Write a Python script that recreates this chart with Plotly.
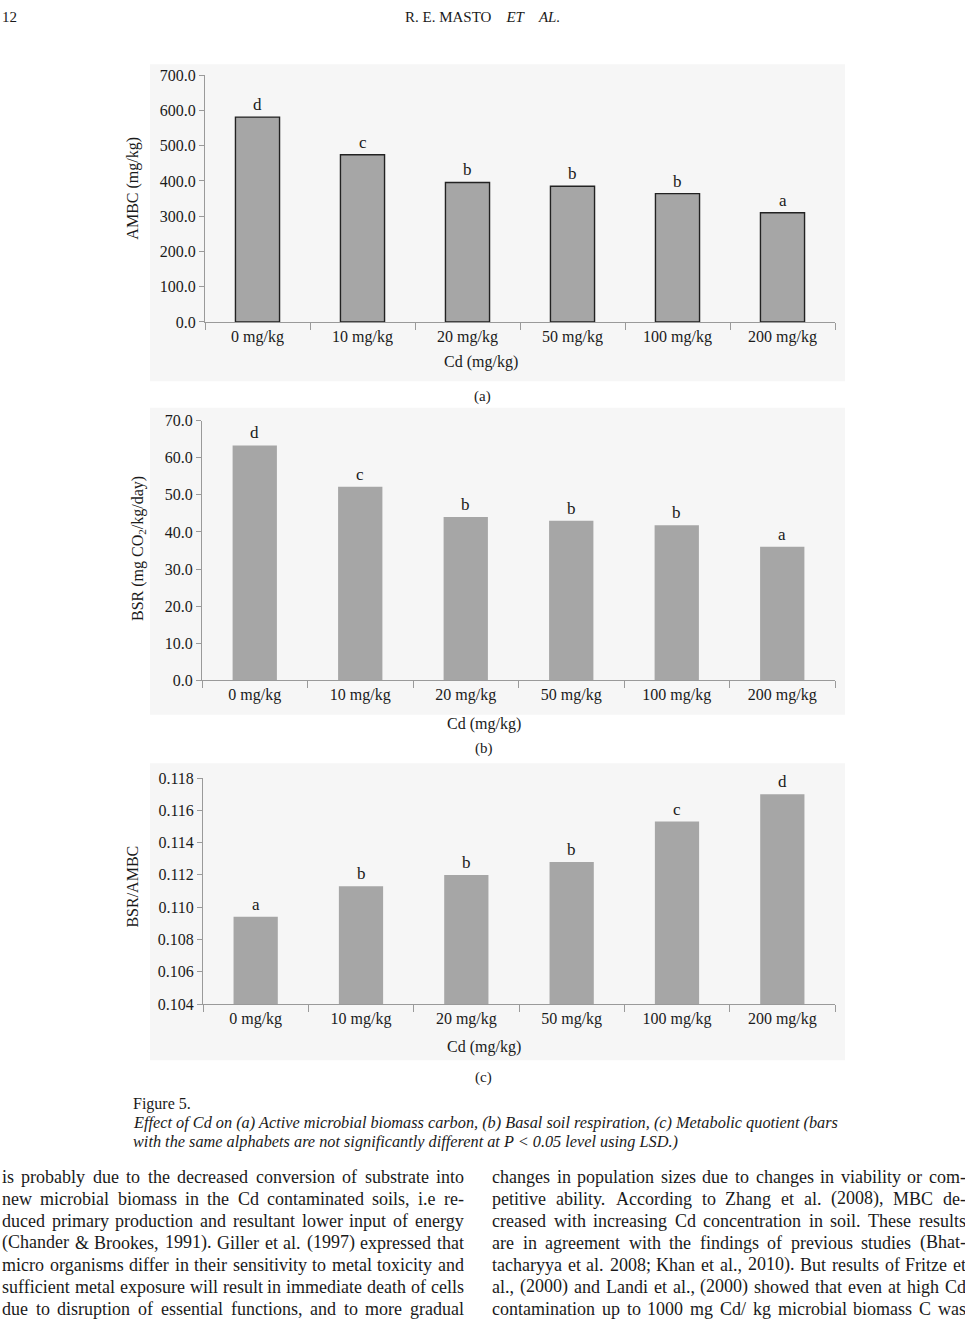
import plotly.graph_objects as go

W, H = 965, 1326
FONT = "Liberation Serif"
TXT = "#1a1a1a"
AXC = "#9a9a9a"
BAR = "#a6a6a6"

# ---------------- data ----------------
categories = ["0 mg/kg", "10 mg/kg", "20 mg/kg", "50 mg/kg", "100 mg/kg", "200 mg/kg"]
ambc = [581.0, 474.0, 395.5, 385.0, 364.0, 309.5]
ambc_letters = ["d", "c", "b", "b", "b", "a"]
bsr = [63.3, 52.2, 44.0, 43.0, 41.8, 36.0]
bsr_letters = ["d", "c", "b", "b", "b", "a"]
qco2 = [0.1094, 0.1113, 0.1120, 0.1128, 0.1153, 0.1170]
qco2_letters = ["a", "b", "b", "b", "c", "d"]

left_col = [
    "is probably due to the decreased conversion of substrate into",
    "new microbial biomass in the Cd contaminated soils, i.e re-",
    "duced primary production and resultant lower input of energy",
    "(Chander & Brookes, 1991). Giller et al. (1997) expressed that",
    "micro organisms differ in their sensitivity to metal toxicity and",
    "sufficient metal exposure will result in immediate death of cells",
    "due to disruption of essential functions, and to more gradual",
]
right_col = [
    "changes in population sizes due to changes in viability or com-",
    "petitive ability. According to Zhang et al. (2008), MBC de-",
    "creased with increasing Cd concentration in soil. These results",
    "are in agreement with the findings of previous studies (Bhat-",
    "tacharyya et al. 2008; Khan et al., 2010). But results of Fritze et",
    "al., (2000) and Landi et al., (2000) showed that even at high Cd",
    "contamination up to 1000 mg Cd/ kg microbial biomass C was",
]
caption_title = "Figure 5."
caption_lines = [
    "Effect of Cd on (a) Active microbial biomass carbon, (b) Basal soil respiration, (c) Metabolic quotient (bars",
    "with the same alphabets are not significantly different at P < 0.05 level using LSD.)",
]


def px(x):
    return x / W


def py(y):
    return 1 - y / H


# Times metrics (per 1000 em) for justification
TW = {' ': 250, 'a': 444, 'b': 500, 'c': 444, 'd': 500, 'e': 444, 'f': 333, 'g': 500, 'h': 500,
      'i': 278, 'j': 278, 'k': 500, 'l': 278, 'm': 778, 'n': 500, 'o': 500, 'p': 500, 'q': 500,
      'r': 333, 's': 389, 't': 278, 'u': 500, 'v': 500, 'w': 722, 'x': 500, 'y': 500, 'z': 444,
      'A': 722, 'B': 667, 'C': 667, 'D': 722, 'E': 611, 'F': 556, 'G': 722, 'H': 722, 'I': 333,
      'J': 389, 'K': 722, 'L': 611, 'M': 889, 'N': 722, 'O': 722, 'P': 556, 'Q': 722, 'R': 667,
      'S': 556, 'T': 611, 'U': 722, 'V': 722, 'W': 944, 'X': 722, 'Y': 722, 'Z': 611,
      '.': 250, ',': 250, '(': 333, ')': 333, '-': 333, '&': 778, ';': 278, ':': 278, '/': 278}


def tw(s):
    return sum(TW.get(c, 500) for c in s) / 1000.0


fig = go.Figure()

panels = [
    dict(xa="x", ya="y", vals=ambc, letters=ambc_letters, x0=205, x1=835, ytop=68, ybot=318,
         rng=[0, 700], dtick=100, fmt=".1f", outline=True),
    dict(xa="x2", ya="y2", vals=bsr, letters=bsr_letters, x0=202, x1=835, ytop=418, ybot=681,
         rng=[0, 70], dtick=10, fmt=".1f", outline=False),
    dict(xa="x3", ya="y3", vals=qco2, letters=qco2_letters, x0=203, x1=835, ytop=780, ybot=1009,
         rng=[0.104, 0.118], dtick=0.002, fmt=".3f", outline=False),
]

annotations = []
shapes = []

# light scan background of the figure images
for (a, b, c, d) in [(150, 57, 845, 378), (150, 405, 845, 716), (150, 765, 845, 1066)]:
    shapes.append(dict(type="rect", xref="paper", yref="paper", x0=px(a), x1=px(c), y0=py(d), y1=py(b),
                       fillcolor="#f6f6f6", line=dict(width=0), layer="below"))

for i, p in enumerate(panels):
    fig.add_trace(go.Bar(
        x=categories, y=p["vals"], xaxis=p["xa"], yaxis=p["ya"], width=0.42,
        marker=dict(color=BAR, line=dict(color="#222222" if p["outline"] else BAR,
                                         width=1.4 if p["outline"] else 0)),
        showlegend=False, hoverinfo="skip"))
    for cat, v, l in zip(categories, p["vals"], p["letters"]):
        annotations.append(dict(x=cat, y=v, xref=p["xa"], yref=p["ya"], text=l, showarrow=False,
                                yanchor="bottom", yshift=1, font=dict(family=FONT, size=17, color=TXT)))
    sfx = "" if i == 0 else str(i + 1)
    fig.layout["xaxis" + sfx] = dict(
        domain=[px(p["x0"]), px(p["x1"])], anchor=p["ya"], type="category",
        showline=True, linecolor=AXC, linewidth=1, ticks="outside", tickson="boundaries",
        ticklen=7, tickcolor=AXC, showgrid=False, zeroline=False,
        tickfont=dict(family=FONT, size=16, color=TXT), fixedrange=True)
    fig.layout["yaxis" + sfx] = dict(
        domain=[py(p["ybot"]), py(p["ytop"])], anchor=p["xa"], range=p["rng"], dtick=p["dtick"],
        tick0=p["rng"][0], tickformat=p["fmt"], showline=True, linecolor=AXC, linewidth=1,
        ticks="outside", ticklen=5, tickcolor=AXC, showgrid=False, zeroline=False,
        tickfont=dict(family=FONT, size=16, color=TXT), fixedrange=True)


def ann(x, y, text, size=16, xanchor="center", angle=0, italic=False):
    annotations.append(dict(xref="paper", yref="paper", x=px(x), y=py(y), text=text, showarrow=False,
                            xanchor=xanchor, yanchor="middle", textangle=angle,
                            font=dict(family=FONT, size=size, color=TXT,
                                      style="italic" if italic else "normal")))


# axis titles and panel labels
ann(133, 183, "AMBC (mg/kg)", angle=-90)
ann(139, 548, "BSR (mg CO<sub>2</sub>/kg/day)", angle=-90)
ann(133, 890, "BSR/AMBC", angle=-90)
ann(481, 359, "Cd (mg/kg)")
ann(484, 725, "Cd (mg/kg)")
ann(484, 1052, "Cd (mg/kg)")
ann(482, 394, "(a)", size=15)
ann(484, 750, "(b)", size=15)
ann(484, 1083, "(c)", size=15)

# header
ann(0, 9, "12", size=15, xanchor="left")
ann(482, 9, "R. E. MASTO\u00a0\u00a0\u00a0\u00a0<i>ET</i>\u00a0\u00a0\u00a0\u00a0<i>AL.</i>", size=15)

# caption
ann(131, 1110, caption_title, size=16, xanchor="left")
ann(131, 1129, caption_lines[0], size=16.3, xanchor="left", italic=True)
ann(131, 1148, caption_lines[1], size=16.3, xanchor="left", italic=True)

# body text, justified word by word
BODY = 18.0
line_y0, line_dy = 1184, 22.3


def justify(lines, xl, xr):
    for k, line in enumerate(lines):
        words = line.split(" ")
        wsum = sum(tw(w) for w in words) * BODY
        gap = (xr - xl - wsum) / (len(words) - 1)
        x = xl
        for w in words:
            ann(x, line_y0 + k * line_dy, w, size=BODY, xanchor="left")
            x += tw(w) * BODY + gap


justify(left_col, 0, 462)
justify(right_col, 490, 964)

fig.update_layout(width=W, height=H, margin=dict(l=0, r=0, t=0, b=0), paper_bgcolor="white",
                  plot_bgcolor="rgba(0,0,0,0)", annotations=annotations, shapes=shapes, bargap=0.58)

fig.write_html(
    "out.html",
    config={"displayModeBar": False, "staticPlot": True},
    post_script=("var d=document.getElementById('{plot_id}');"
                 "d.style.position='absolute';d.style.top='0px';d.style.left='0px';"
                 "document.body.style.margin='0px';"
                 "document.documentElement.style.overflow='hidden';"
                 "document.body.style.overflow='hidden';"),
)
